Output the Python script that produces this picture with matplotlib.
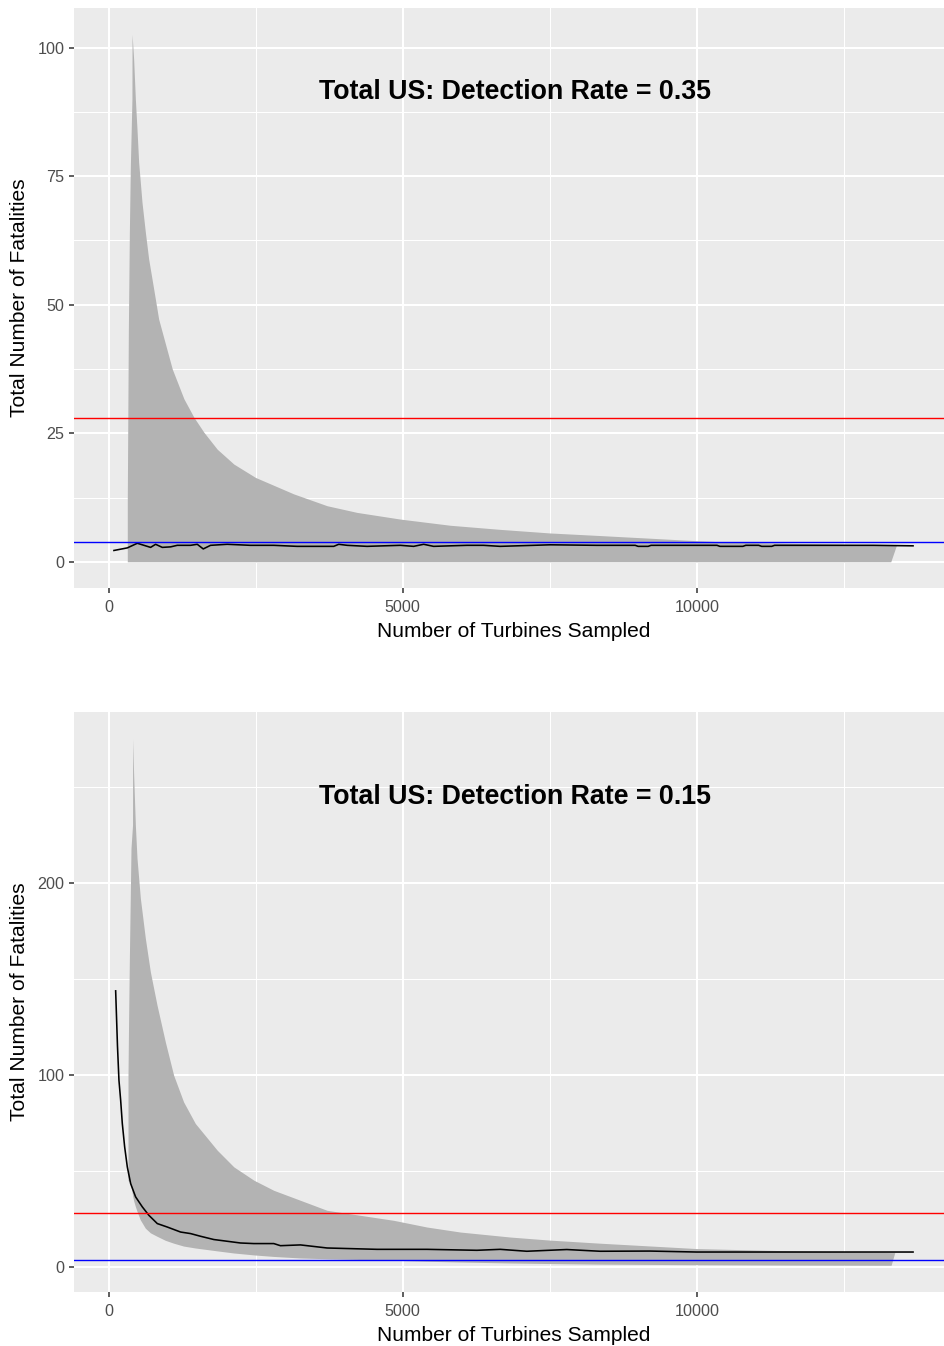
import matplotlib
matplotlib.use("Agg")
from matplotlib import pyplot as plt
from matplotlib.ticker import FixedLocator

plt.rcParams["font.family"] = ["Liberation Sans", "DejaVu Sans"]

# Detection rate 0.35: simulated interval (ribbon) and running estimate (line)
top_rib_x = [317, 335, 352, 369, 396, 398, 425, 454, 482, 510, 567, 624, 680, 765, 850,
             912, 1081, 1279, 1449, 1618, 1845, 2128, 2496, 3146, 3713, 4222, 4958,
             5806, 6655, 7504, 8354, 9994, 10390, 11500, 12500, 13294, 13390]
top_rib_upper = [12, 45, 64, 77, 90, 102.6, 97.7, 90, 84.1, 77.7, 69.9, 64.1, 58.9, 53.1, 47.2,
                 44.6, 37.5, 31.7, 28.1, 25.2, 21.9, 19.0, 16.4, 13.2, 10.9, 9.6, 8.3,
                 7.1, 6.3, 5.6, 5.1, 4.1, 3.9, 3.6, 3.4, 3.25, 3.2]
top_rib_lower = [0] * 36 + [3.2]

top_line_x = [90, 317, 487, 600, 713, 798, 912, 1053, 1166, 1392, 1506, 1608, 1732, 2015,
              2411, 2807, 3203, 3543, 3826, 3911, 4053, 4392, 4958, 5184, 5354, 5523,
              6090, 6372, 6655, 7504, 8300, 8950, 9000, 9170, 9220, 10340, 10390, 10780,
              10830, 11050, 11100, 11270, 11320, 13000, 13673]
top_line_y = [2.2, 2.7, 3.6, 3.2, 2.8, 3.4, 2.8, 2.9, 3.2, 3.2, 3.4, 2.5, 3.2, 3.4,
              3.2, 3.2, 3.0, 3.0, 3.0, 3.4, 3.2, 3.0, 3.2, 3.0, 3.4, 3.0,
              3.2, 3.2, 3.0, 3.3, 3.2, 3.2, 3.0, 3.0, 3.2, 3.2, 3.0, 3.0,
              3.2, 3.2, 3.0, 3.0, 3.2, 3.2, 3.1]

# Detection rate 0.15
bot_rib_x = [329, 340, 352, 380, 406, 408, 425, 454, 482, 539, 624, 709, 822, 963, 1105,
             1274, 1473, 1845, 2128, 2467, 2807, 3260, 3713, 4278, 4844, 5411, 5977,
             6825, 7500, 8350, 9994, 11750, 13300, 13362]
bot_rib_upper = [100, 131, 160, 218, 230, 274.8, 256, 230, 212.7, 191.9, 171, 153.6, 136.3,
                 117.2, 99.8, 85.9, 74.7, 60.8, 52.1, 45.2, 39.9, 34.7, 29.5, 26.9, 24.3,
                 20.8, 18.2, 15.6, 14.0, 12.4, 9.6, 8.3, 7.5, 7.5]
bot_rib_lower = [45, 44.8, 44.5, 42, 37.5, 37, 34.5, 31.5, 29, 24.5, 20.2, 17.8, 16, 13.9,
                 12.4, 10.9, 9.9, 8.4, 7.3, 6.3, 5.5, 4.7, 4.3, 3.9, 3.5, 3.0, 2.6,
                 2.1, 1.8, 1.5, 1.2, 1.0, 0.9, 7.5]

bot_line_x = [119, 150, 175, 204, 232, 272, 317, 374, 458, 572, 684, 827, 997, 1223, 1392,
              1562, 1788, 2015, 2241, 2467, 2807, 2920, 3260, 3713, 4562, 5411, 6260,
              6655, 7108, 7787, 8353, 9202, 9994, 11013, 12600, 13673]
bot_line_y = [143.7, 115, 97.2, 86.8, 74.7, 62.5, 52.1, 43.4, 36.5, 31.3, 26.9, 22.6, 20.8,
              18.2, 17.4, 16.0, 14.3, 13.4, 12.5, 12.2, 12.2, 11.1, 11.5, 9.9, 9.2, 9.2,
              8.7, 9.2, 8.2, 9.1, 8.2, 8.3, 7.8, 7.8, 7.8, 7.8]

# reference levels
red_level = 28
blue_level = 3.9

x_ticks = [0, 5000, 10000]
x_minor = [2500, 7500, 12500]
top_y_ticks = [0, 25, 50, 75, 100]
top_y_minor = [12.5, 37.5, 62.5, 87.5]
bot_y_ticks = [0, 100, 200]
bot_y_minor = [50, 150, 250]

W, H = 945, 1346


def draw_panel(ax, rib_x, rib_up, rib_lo, line_x, line_y, yticks, yminor, ylim,
               title, title_y):
    ax.set_facecolor("#EBEBEB")
    for s in ax.spines.values():
        s.set_visible(False)
    ax.xaxis.set_major_locator(FixedLocator(x_ticks))
    ax.xaxis.set_minor_locator(FixedLocator(x_minor))
    ax.yaxis.set_major_locator(FixedLocator(yticks))
    ax.yaxis.set_minor_locator(FixedLocator(yminor))
    ax.grid(which="major", color="white", linewidth=1.5)
    ax.grid(which="minor", color="white", linewidth=0.75)
    ax.set_axisbelow(True)
    ax.tick_params(which="major", length=3.8, width=1.1, color="#333333",
                   labelcolor="#4D4D4D", labelsize=11.6, pad=3)
    ax.tick_params(axis="x", which="major", pad=5)
    ax.tick_params(which="minor", length=0)

    ax.fill_between(rib_x, rib_lo, rib_up, color="#B3B3B3", linewidth=0, zorder=2)
    ax.plot(line_x, line_y, color="black", linewidth=1.15, zorder=3)
    ax.axhline(red_level, color="red", linewidth=1.0, zorder=4)
    ax.axhline(blue_level, color="blue", linewidth=1.0, zorder=4)

    ax.text(6900, title_y, title, ha="center", va="baseline", fontsize=19.3,
            fontweight="bold", color="black", zorder=5)

    ax.set_xlim(-589, 14352)
    ax.set_ylim(*ylim)
    ax.set_xlabel("Number of Turbines Sampled", fontsize=15.1, labelpad=5)
    ax.set_ylabel("Total Number of Fatalities", fontsize=15.1, labelpad=6)


fig = plt.figure(figsize=(W / 100, H / 100), dpi=100)

left = 74 / W
width = (953 - 74) / W
ax1 = fig.add_axes([left, (H - 588) / H, width, (588 - 8) / H])
ax2 = fig.add_axes([left, (H - 1292) / H, width, (1292 - 712) / H])

draw_panel(ax1, top_rib_x, top_rib_upper, top_rib_lower, top_line_x, top_line_y,
           top_y_ticks, top_y_minor, (-5.1, 107.7),
           "Total US: Detection Rate = 0.35", 90.0)
draw_panel(ax2, bot_rib_x, bot_rib_upper, bot_rib_lower, bot_line_x, bot_line_y,
           bot_y_ticks, bot_y_minor, (-13.0, 288.8),
           "Total US: Detection Rate = 0.15", 241.0)

fig.savefig("out.png", dpi=100)
